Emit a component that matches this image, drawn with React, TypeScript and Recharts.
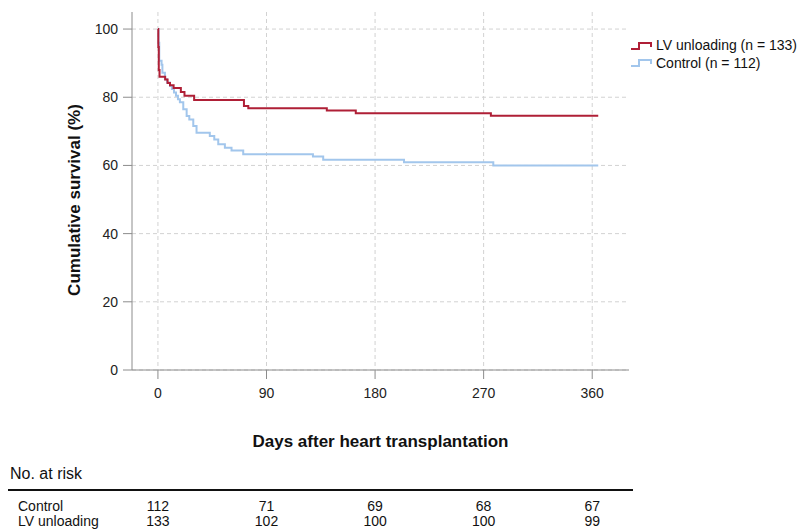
import React from 'react';
import { LineChart, Line, XAxis, YAxis, CartesianGrid } from 'recharts';

// Kaplan-Meier steps (day, % surviving)
const lvDays = [0, 0.3, 0.7, 1.3, 6, 8, 10, 13, 19, 22, 30, 71.3, 74.9, 140, 164, 276, 365];
const lvSurvival = [100, 94.7, 88, 86, 85.2, 84.2, 83.5, 82.7, 81.5, 80.4, 79.2, 77.4, 76.8, 76.1, 75.3, 74.6, 74.6];

const controlDays = [0, 0.5, 1.1, 3, 3.7, 5.8, 7.5, 10, 11.6, 13.3, 15, 16.6, 18.2, 21, 23.8, 26, 29.3, 32, 43, 46.7, 50, 55.5, 61, 70.7, 128.5, 137, 204, 278, 365];
const controlSurvival = [100, 96, 90.7, 89.5, 87.2, 85.3, 84.3, 83.3, 82.4, 81.4, 80.4, 79.4, 78.5, 76.5, 74.5, 73.5, 71.6, 69.6, 68.6, 67.6, 66.2, 65.2, 64.4, 63.3, 62.6, 61.7, 60.9, 60.0, 60.0];

const dayTicks = [0, 90, 180, 270, 360];
const survivalTicks = [0, 20, 40, 60, 80, 100];

const riskRows = ['Control', 'LV unloading'];
const riskControl = [112, 71, 69, 68, 67];
const riskLv = [133, 102, 100, 100, 99];

const legendLabels = ['LV unloading (n = 133)', 'Control (n = 112)'];

const lvData = lvDays.map((day, i) => ({ day, survival: lvSurvival[i] }));
const controlData = controlDays.map((day, i) => ({ day, survival: controlSurvival[i] }));

const RED = '#AF1F36';
const BLUE = '#A2C6EC';
const AXIS = '#8c8c8c';
const FONT = '"Liberation Sans", Arial, Helvetica, sans-serif';

const W = 808;
const H = 530;
const PLOT_LEFT = 132;
const PLOT_RIGHT = 629;
const PLOT_TOP = 12;
const PLOT_BOTTOM = 370;
const X_DOMAIN: [number, number] = [-21.5, 390.5];

const xPos = (day: number) =>
  PLOT_LEFT + ((day - X_DOMAIN[0]) / (X_DOMAIN[1] - X_DOMAIN[0])) * (PLOT_RIGHT - PLOT_LEFT);

const StepIcon = ({ color }: { color: string }) => (
  <svg width={24} height={10} style={{ marginRight: 2 }}>
    <path d="M1 8 H9 V2 H21 V6" fill="none" stroke={color} strokeWidth={2} />
  </svg>
);

const YTitle = (props: any) => {
  const vb = props.viewBox || { x: 0, y: PLOT_TOP, width: PLOT_LEFT, height: PLOT_BOTTOM - PLOT_TOP };
  const cx = vb.x + 74;
  const cy = vb.y + vb.height / 2 + 9;
  return (
    <text x={cx} y={cy} transform={`rotate(-90, ${cx}, ${cy})`} textAnchor="middle" dominantBaseline="central"
      style={{ fontFamily: FONT, fontSize: 17, fontWeight: 700, fill: '#111' }}>
      Cumulative survival (%)
    </text>
  );
};

const XTitle = (props: any) => {
  const vb = props.viewBox || { x: PLOT_LEFT, y: PLOT_BOTTOM, width: PLOT_RIGHT - PLOT_LEFT, height: 160 };
  return (
    <text x={vb.x + vb.width / 2} y={vb.y + 71} textAnchor="middle" dominantBaseline="central"
      style={{ fontFamily: FONT, fontSize: 17, fontWeight: 700, fill: '#111' }}>
      Days after heart transplantation
    </text>
  );
};

export default function App() {
  return (
    <div style={{ position: 'relative', width: W, height: H, margin: '-8px 0 0 -8px', fontFamily: FONT, background: '#fff' }}>
      <LineChart
        width={W}
        height={H}
        margin={{ top: PLOT_TOP, right: W - PLOT_RIGHT, left: 0, bottom: 0 }}
      >
        <CartesianGrid stroke="#d2d2d2" strokeDasharray="4 3"
          verticalValues={dayTicks} horizontalValues={survivalTicks} />
        <XAxis
          type="number"
          dataKey="day"
          domain={X_DOMAIN}
          allowDataOverflow
          ticks={dayTicks}
          height={H - PLOT_BOTTOM}
          stroke={AXIS}
          tickSize={9}
          tickMargin={9}
          tick={{ fill: '#222', fontSize: 14, fontFamily: FONT }}
          label={<XTitle />}
        />
        <YAxis
          type="number"
          domain={[0, 105]}
          allowDataOverflow
          ticks={survivalTicks}
          width={PLOT_LEFT}
          stroke={AXIS}
          tickSize={9}
          tickMargin={5}
          tick={{ fill: '#222', fontSize: 14, fontFamily: FONT }}
          label={<YTitle />}
        />
        <Line data={controlData} dataKey="survival" type="stepAfter" stroke={BLUE} strokeWidth={2}
          dot={false} activeDot={false} isAnimationActive={false} />
        <Line data={lvData} dataKey="survival" type="stepAfter" stroke={RED} strokeWidth={2}
          dot={false} activeDot={false} isAnimationActive={false} />
      </LineChart>

      {/* legend */}
      <div style={{ position: 'absolute', left: 630, top: 37, fontSize: 14, lineHeight: '17.5px', color: '#111' }}>
        {legendLabels.map((label, i) => (
          <div key={label} style={{ display: 'flex', alignItems: 'center', whiteSpace: 'nowrap' }}>
            <StepIcon color={i === 0 ? RED : BLUE} />
            <span>{label}</span>
          </div>
        ))}
      </div>

      {/* number at risk table */}
      <div style={{ position: 'absolute', left: 10, top: 465, fontSize: 16, color: '#111' }}>No. at risk</div>
      <div style={{ position: 'absolute', left: 8, top: 489, width: 625, height: 2, background: '#111' }} />
      {[riskControl, riskLv].map((row, r) => (
        <React.Fragment key={riskRows[r]}>
          <div style={{ position: 'absolute', left: 18, top: 498 + r * 15, fontSize: 14, color: '#111' }}>{riskRows[r]}</div>
          {row.map((n, i) => (
            <div key={i} style={{
              position: 'absolute', left: xPos(dayTicks[i]) - 30, width: 60, textAlign: 'center',
              top: 498 + r * 15, fontSize: 14, color: '#111',
            }}>{n}</div>
          ))}
        </React.Fragment>
      ))}
    </div>
  );
}
